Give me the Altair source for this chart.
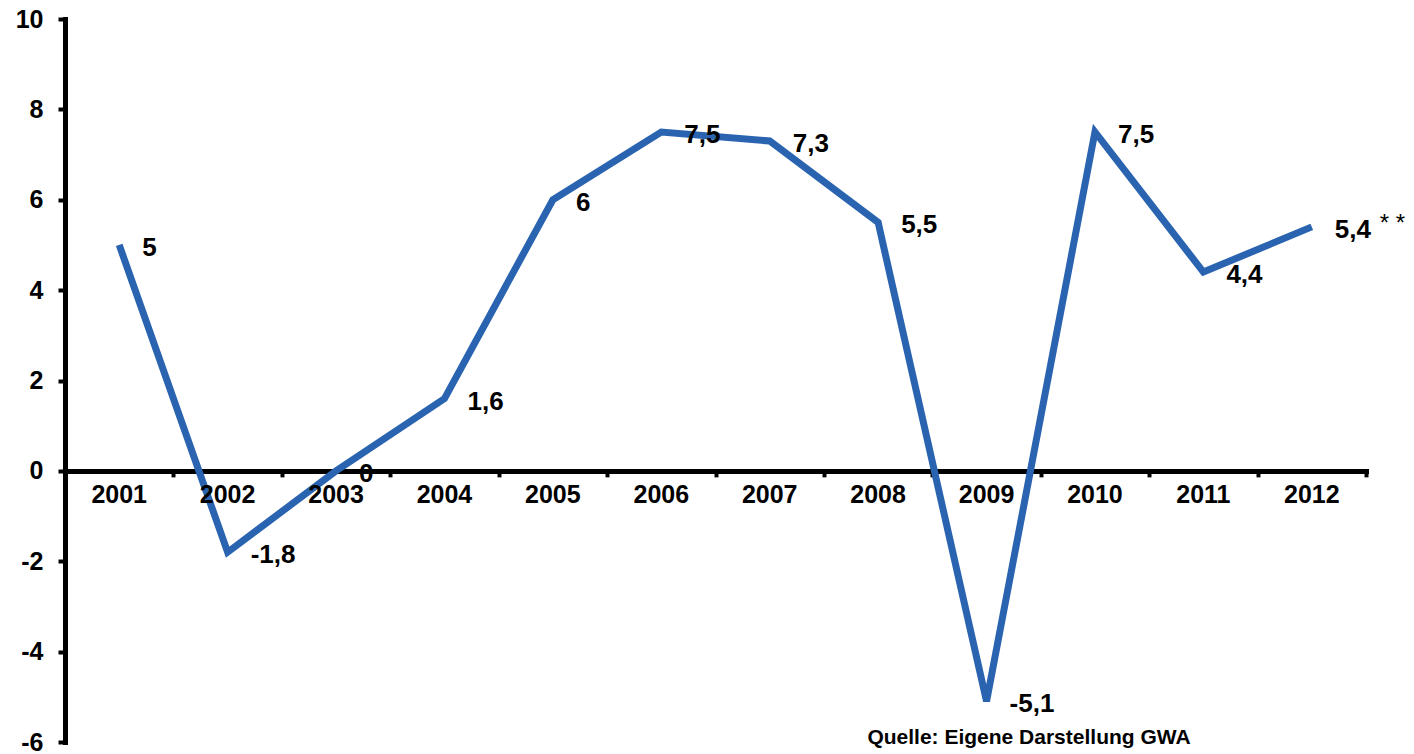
import altair as alt
import pandas as pd

# Growth rates in percent, 2001-2012
years = ["2001", "2002", "2003", "2004", "2005", "2006",
         "2007", "2008", "2009", "2010", "2011", "2012"]
values = [5.0, -1.8, 0.0, 1.6, 6.0, 7.5, 7.3, 5.5, -5.1, 7.5, 4.4, 5.4]
value_labels = ["5", "-1,8", "0", "1,6", "6", "7,5", "7,3", "5,5", "-5,1", "7,5", "4,4", "5,4"]
notes = ["", "", "", "", "", "", "", "", "", "", "", "* *"]
y_ticks = [-6, -4, -2, 0, 2, 4, 6, 8, 10]
source_text = "Quelle: Eigene Darstellung GWA"

Y_MIN, Y_MAX = -6, 10
W, H = 1301, 723
FONT = "Liberation Sans"

n = len(years)
df = pd.DataFrame({
    "pos": [i + 0.5 for i in range(n)],
    "year": years,
    "value": values,
    "label": value_labels,
    "note": notes,
})
bounds = pd.DataFrame({"b": list(range(n + 1)), "zero": [0] * (n + 1)})

x_scale = alt.Scale(domain=[0, n], nice=False, zero=False)
y_scale = alt.Scale(domain=[Y_MIN, Y_MAX], nice=False)

# distance of the zero line from the bottom of the plot
zero_offset = -H * (0 - Y_MIN) / (Y_MAX - Y_MIN)

base = alt.Chart(df)

# category axis drawn along y = 0, ticks at band boundaries
x_axis = alt.Axis(
    values=list(range(n + 1)), labels=False, title=None, grid=False,
    offset=zero_offset, orient="bottom",
)
y_axis = alt.Axis(
    values=y_ticks, title=None, grid=False,
    labelFont=FONT, labelFontWeight="bold", labelFontSize=25,
    labelColor="black", labelPadding=15, labelExpr="datum.value",
)

axes = alt.Chart(bounds).mark_point(opacity=0).encode(
    x=alt.X("b:Q", scale=x_scale, axis=x_axis),
    y=alt.Y("zero:Q", scale=y_scale, axis=y_axis),
)

line = base.mark_line(color="#2a64b0", strokeWidth=7, strokeJoin="miter").encode(
    x=alt.X("pos:Q", scale=x_scale),
    y=alt.Y("value:Q", scale=y_scale),
)

year_text = base.mark_text(
    font=FONT, fontWeight="bold", fontSize=25, color="black",
    baseline="top", dy=12,
).encode(
    x=alt.X("pos:Q", scale=x_scale),
    y=alt.datum(0, scale=y_scale),
    text="year:N",
)

value_text = base.mark_text(
    font=FONT, fontWeight="bold", fontSize=26, color="black",
    align="left", baseline="middle", dx=23, dy=3,
).encode(
    x=alt.X("pos:Q", scale=x_scale),
    y=alt.Y("value:Q", scale=y_scale),
    text="label:N",
)

note_text = base.mark_text(
    font=FONT, fontSize=24, color="black",
    align="left", baseline="middle", dx=68, dy=-3,
).encode(
    x=alt.X("pos:Q", scale=x_scale),
    y=alt.Y("value:Q", scale=y_scale),
    text="note:N",
)

source = alt.Chart(pd.DataFrame({"t": [source_text]})).mark_text(
    font=FONT, fontWeight="bold", fontSize=21, color="black",
    align="center", baseline="middle",
).encode(
    x=alt.value(964), y=alt.value(H - 4), text="t:N",
)

chart = alt.layer(axes, line, year_text, value_text, note_text, source).properties(
    width=W, height=H,
    autosize=alt.AutoSizeParams(type="none"),
    padding={"left": 65, "top": 19, "right": 48, "bottom": 12},
    background="white",
).configure_view(stroke=None).configure_axis(
    domainWidth=5, domainColor="black", tickWidth=4, tickColor="black",
    domainCap="square",
).configure_axisX(tickSize=6).configure_axisY(tickSize=7)

chart.save("out.html", embed_options={"renderer": "svg", "actions": False})
